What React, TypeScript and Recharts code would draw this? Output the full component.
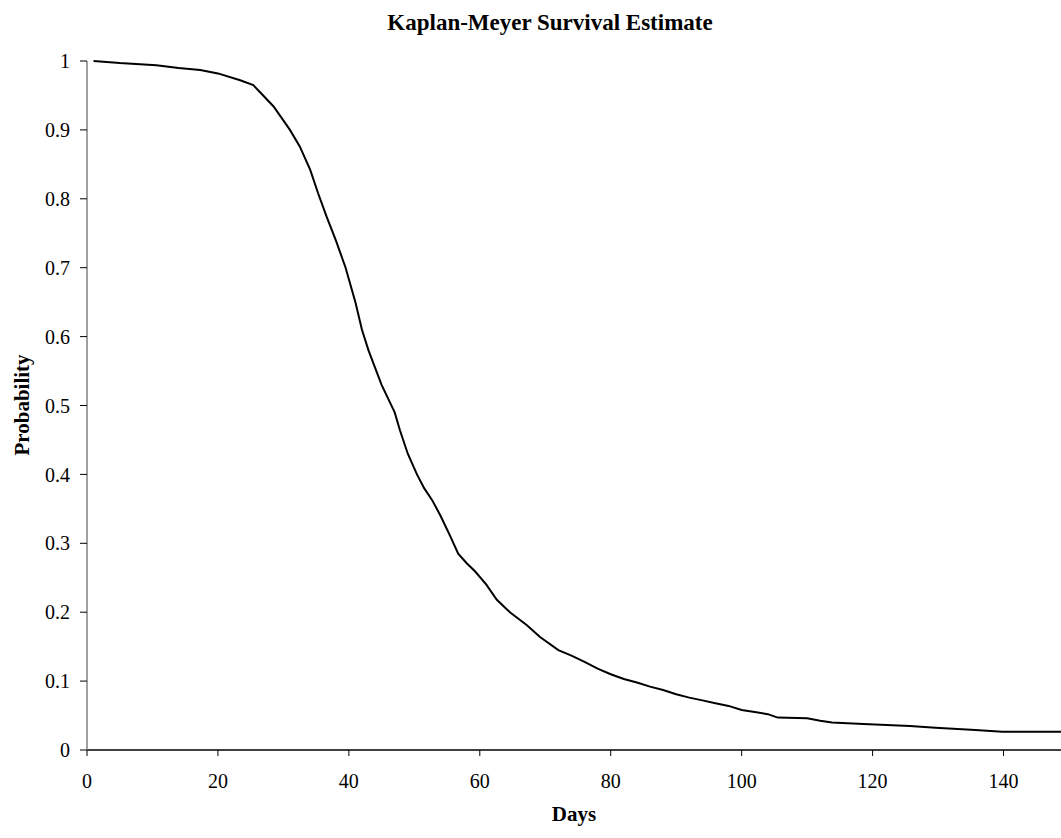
import React from "react";
import { LineChart, Line, XAxis, YAxis } from "recharts";

// survival curve (day, probability)
const days = [
  1, 5, 10.6, 14, 17.3, 20, 23.4, 25.4, 26.4, 28.5, 31, 32.5, 34.1, 35.3, 36.6,
  38, 39.5, 41, 42, 43, 44, 45, 46, 47, 47.8, 49, 50.4, 51.5, 52.7, 54, 55.5,
  56.7, 58, 59.3, 61, 62.6, 64.6, 67.2, 69.2, 72, 74, 76, 78, 80, 82, 84, 86,
  88, 90, 92, 94, 96, 98, 100, 102, 104, 105.5, 110, 112, 113.8, 118.6, 125.7,
  129.6, 135.7, 139.8, 150,
];
const survival = [
  1.0, 0.997, 0.994, 0.99, 0.987, 0.982, 0.972, 0.965, 0.955, 0.934, 0.9, 0.876,
  0.842, 0.808, 0.774, 0.74, 0.7, 0.65, 0.61, 0.58, 0.555, 0.53, 0.51, 0.49,
  0.464, 0.43, 0.4, 0.38, 0.363, 0.34, 0.31, 0.285, 0.271, 0.259, 0.24, 0.218,
  0.2, 0.181, 0.164, 0.145, 0.137, 0.128, 0.118, 0.11, 0.103, 0.098, 0.092,
  0.087, 0.081, 0.076, 0.072, 0.068, 0.064, 0.058, 0.055, 0.052, 0.047, 0.046,
  0.0425, 0.04, 0.0377, 0.0348, 0.0324, 0.029, 0.0266, 0.0266,
];
const xTicks = [0, 20, 40, 60, 80, 100, 120, 140];
const yTicks = [0, 0.1, 0.2, 0.3, 0.4, 0.5, 0.6, 0.7, 0.8, 0.9, 1];

const data = days.map((d, i) => ({ day: d, p: survival[i] }));

const serif = '"Liberation Serif", "Times New Roman", serif';

export default function App() {
  return (
    <div
      style={{
        position: "absolute",
        left: 0,
        top: 0,
        width: 1061,
        height: 838,
        overflow: "hidden",
        background: "#fff",
        fontFamily: serif,
        color: "#000",
      }}
    >
      <LineChart
        width={1100}
        height={838}
        data={data}
        margin={{ top: 61, right: 31, bottom: 0, left: 0 }}
      >
        <XAxis
          dataKey="day"
          type="number"
          domain={[0, 150]}
          ticks={xTicks}
          height={88}
          tickSize={6}
          tickMargin={18}
          axisLine={{ stroke: "#000", strokeWidth: 1.5 }}
          tickLine={{ stroke: "#000" }}
          tick={{ fill: "#000", fontSize: 20, fontFamily: serif }}
        />
        <YAxis
          type="number"
          domain={[0, 1]}
          ticks={yTicks}
          width={87}
          tickSize={7}
          tickMargin={10}
          tickFormatter={(v: number) => String(+v.toFixed(1))}
          axisLine={{ stroke: "#808080", strokeWidth: 1.5 }}
          tickLine={{ stroke: "#000" }}
          tick={{ fill: "#000", fontSize: 20, fontFamily: serif }}
        />
        <Line
          dataKey="p"
          type="linear"
          stroke="#000"
          strokeWidth={2}
          dot={false}
          isAnimationActive={false}
        />
      </LineChart>
      <div
        style={{
          position: "absolute",
          left: 550,
          top: 11,
          transform: "translateX(-50%)",
          fontSize: 23,
          lineHeight: "23px",
          fontWeight: "bold",
          whiteSpace: "nowrap",
        }}
      >
        Kaplan-Meyer Survival Estimate
      </div>
      <div
        style={{
          position: "absolute",
          left: 574,
          top: 804,
          transform: "translateX(-50%)",
          fontSize: 21,
          lineHeight: "21px",
          fontWeight: "bold",
        }}
      >
        Days
      </div>
      <div
        style={{
          position: "absolute",
          left: 22,
          top: 405,
          transform: "translate(-50%, -50%) rotate(-90deg)",
          fontSize: 21,
          lineHeight: "21px",
          fontWeight: "bold",
          whiteSpace: "nowrap",
        }}
      >
        Probability
      </div>
    </div>
  );
}
